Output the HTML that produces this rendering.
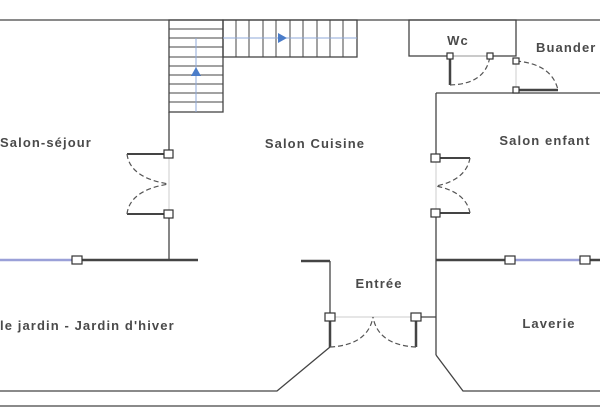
<!DOCTYPE html>
<html><head><style>
body{margin:0;background:#fff;}
svg{display:block}
text{font-family:"Liberation Sans",sans-serif;font-size:13px;fill:#4a4a4a;font-weight:bold;letter-spacing:1.1px}
</style></head><body>
<svg width="600" height="420" viewBox="0 0 600 420">
<g stroke="#444" stroke-width="1.3" fill="none">
<line x1="0" y1="20" x2="600" y2="20"/>
<rect x="169" y="20" width="54" height="92"/>
<rect x="223" y="20" width="134" height="37"/>
<g stroke-width="1">
<line x1="169" y1="29" x2="223" y2="29"/><line x1="169" y1="38" x2="223" y2="38"/><line x1="169" y1="47" x2="223" y2="47"/><line x1="169" y1="57" x2="223" y2="57"/><line x1="169" y1="66" x2="223" y2="66"/><line x1="169" y1="75" x2="223" y2="75"/><line x1="169" y1="84" x2="223" y2="84"/><line x1="169" y1="93" x2="223" y2="93"/><line x1="169" y1="102" x2="223" y2="102"/>
<line x1="236" y1="20" x2="236" y2="57"/><line x1="249" y1="20" x2="249" y2="57"/><line x1="263" y1="20" x2="263" y2="57"/><line x1="276" y1="20" x2="276" y2="57"/><line x1="290" y1="20" x2="290" y2="57"/><line x1="303" y1="20" x2="303" y2="57"/><line x1="317" y1="20" x2="317" y2="57"/><line x1="330" y1="20" x2="330" y2="57"/><line x1="343" y1="20" x2="343" y2="57"/>
</g>
<line x1="169" y1="112" x2="169" y2="154"/>
<line x1="169" y1="214" x2="169" y2="260"/>
<line x1="77" y1="260" x2="198" y2="260" stroke-width="2.5"/>
<rect x="409" y="20" width="107" height="36"/>
<line x1="436" y1="93" x2="600" y2="93"/>
<line x1="436" y1="93" x2="436" y2="158"/>
<line x1="436" y1="213" x2="436" y2="355"/>
<polyline points="436,355 463,391 600,391"/>
<line x1="436" y1="260" x2="510" y2="260" stroke-width="2.5"/>
<line x1="585" y1="260" x2="600" y2="260" stroke-width="2.5"/>
<line x1="301" y1="261" x2="330" y2="261" stroke-width="2.5"/>
<line x1="330" y1="261" x2="330" y2="317"/>
<line x1="330" y1="317" x2="330" y2="347" stroke-width="2.5"/>
<polyline points="330,347 277,391 0,391"/>
<line x1="416" y1="317" x2="416" y2="347" stroke-width="2.5"/>
<line x1="416" y1="317" x2="436" y2="317"/>
<line x1="0" y1="406" x2="600" y2="406"/>
<line x1="127" y1="154" x2="169" y2="154" stroke-width="2"/>
<line x1="127" y1="214" x2="169" y2="214" stroke-width="2"/>
<line x1="450" y1="56" x2="450" y2="85" stroke-width="2.5"/>
<line x1="516" y1="90" x2="558" y2="90" stroke-width="2.5"/>
<line x1="436" y1="158" x2="470" y2="158" stroke-width="2" />
<line x1="436" y1="213" x2="470" y2="213" stroke-width="2"/>
</g>
<g stroke="#ccc" stroke-width="1">
<line x1="169" y1="154" x2="169" y2="214"/><line x1="436" y1="158" x2="436" y2="213"/>
<line x1="330" y1="317" x2="416" y2="317"/><line x1="450" y1="56" x2="490" y2="56"/><line x1="516" y1="61" x2="516" y2="90"/>
</g>
<g stroke="#555" stroke-width="1.2" fill="none" stroke-dasharray="5,3">
<path d="M127,154 Q130,178 169,184"/><path d="M127,214 Q130,190 169,184"/>
<path d="M470,158 Q466,180 436,186"/><path d="M470,213 Q466,192 436,186"/>
<path d="M330,347 Q368,345 373,317"/><path d="M416,347 Q378,345 373,317"/>
<path d="M450,85 Q486,84 490,56"/><path d="M516,61 Q552,64 558,90"/>
</g>
<g stroke="#9aa0d8" stroke-width="2.5"><line x1="0" y1="260" x2="77" y2="260"/><line x1="510" y1="260" x2="585" y2="260"/></g>
<g stroke="#8fa8d8" stroke-width="1"><line x1="196" y1="38" x2="196" y2="112"/><line x1="223" y1="38" x2="357" y2="38"/></g>
<polygon points="196,67 191,76 201,76" fill="#4a7cc9"/>
<polygon points="287,38 278,33 278,43" fill="#4a7cc9"/>
<g fill="#fff" stroke="#333" stroke-width="1.2">
<rect x="164" y="150" width="9" height="8"/><rect x="164" y="210" width="9" height="8"/>
<rect x="72" y="256" width="10" height="8"/>
<rect x="431" y="154" width="9" height="8"/><rect x="431" y="209" width="9" height="8"/>
<rect x="505" y="256" width="10" height="8"/><rect x="580" y="256" width="10" height="8"/>
<rect x="325" y="313" width="10" height="8"/><rect x="411" y="313" width="10" height="8"/>
<rect x="447" y="53" width="6" height="6"/><rect x="487" y="53" width="6" height="6"/>
<rect x="513" y="58" width="6" height="6"/><rect x="513" y="87" width="6" height="6"/>
</g>
<text x="0" y="147">Salon-séjour</text>
<text x="315" y="148" text-anchor="middle">Salon Cuisine</text>
<text x="545" y="145" text-anchor="middle">Salon enfant</text>
<text x="458" y="45" text-anchor="middle">Wc</text>
<text x="536" y="52">Buander</text>
<text x="379" y="288" text-anchor="middle">Entrée</text>
<text x="549" y="328" text-anchor="middle">Laverie</text>
<text x="0" y="330">le jardin - Jardin d'hiver</text>
</svg>
</body></html>
